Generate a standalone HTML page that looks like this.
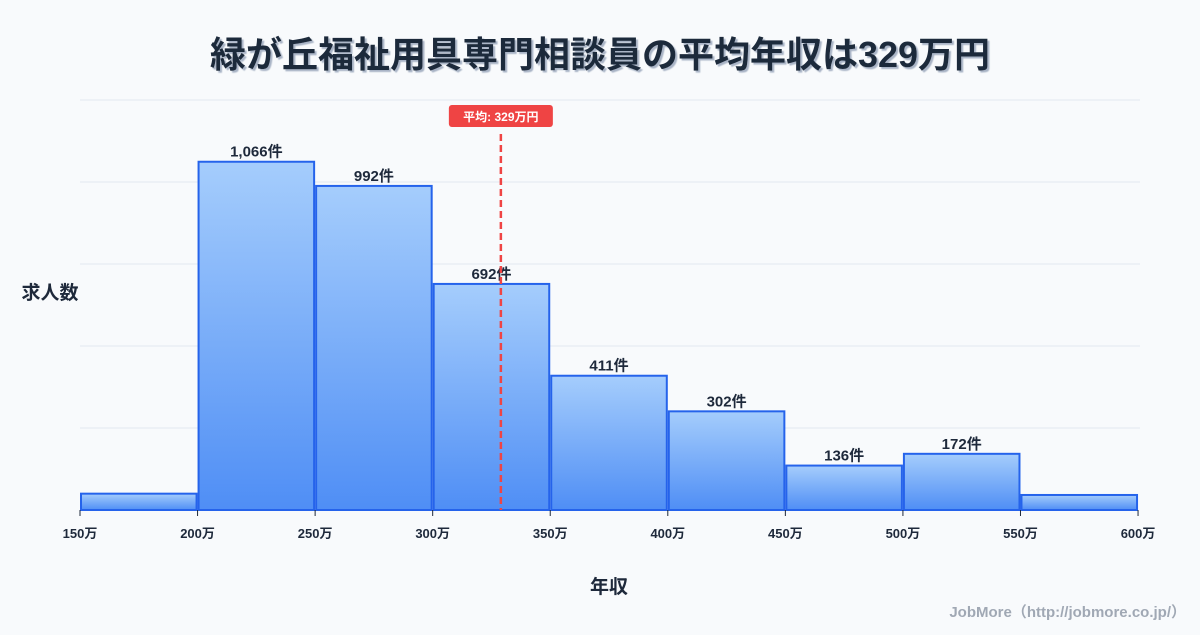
<!DOCTYPE html>
<html><head><meta charset="utf-8"><style>
body{margin:0;background:#f8fafc;font-family:"Liberation Sans","Noto Sans CJK JP",sans-serif;}
</style></head><body>
<svg id="c" width="1200" height="630" xmlns="http://www.w3.org/2000/svg">
<defs><linearGradient id="g" x1="0" y1="0" x2="0" y2="1"><stop offset="0" stop-color="#a5cdfc"/><stop offset="1" stop-color="#4f8ef5"/></linearGradient>
<filter id="sh"><feDropShadow dx="2" dy="2" stdDeviation="0.5" flood-color="#94a3b8" flood-opacity="0.8"/></filter></defs>
<rect width="1200" height="630" fill="#f8fafc"/>
<text x="600" y="67" text-anchor="middle" font-size="36" font-weight="bold" fill="#1e293b" filter="url(#sh)" font-family="Liberation Sans, Noto Sans CJK JP, sans-serif">緑が丘福祉用具専門相談員の平均年収は329万円</text>
<g id="grid"></g><g id="bars"></g><g id="xt"></g>
<text x="50" y="299" text-anchor="middle" font-size="19" font-weight="bold" fill="#1e293b">求人数</text>
<text x="609" y="593" text-anchor="middle" font-size="19" font-weight="bold" fill="#1e293b">年収</text>
<text x="1186" y="617" text-anchor="end" font-size="15" font-weight="bold" fill="#a0a8b4">JobMore（http://jobmore.co.jp/）</text>
<g id="mean"></g>
</svg>
<script>
const binStarts=[150,200,250,300,350,400,450,500,550];
const counts=[50,1066,992,692,411,302,136,172,46];
const showLabel=[false,true,true,true,true,true,true,true,false];
const xTicks=[150,200,250,300,350,400,450,500,550,600];
const gridVals=[251,502,753,1004,1255];
const meanVal=329;
const NS="http://www.w3.org/2000/svg";
const X=v=>80+(v-150)*117.56/50;
const Y=v=>510-v*410/1255;
function mk(t,a,p){const e=document.createElementNS(NS,t);for(const k in a)e.setAttribute(k,a[k]);document.getElementById(p).appendChild(e);return e;}
gridVals.forEach(v=>{const l=mk('line',{x1:80,x2:1140,y1:Y(v),y2:Y(v),stroke:'#e2e8f0','stroke-width':1},'grid');

});
binStarts.forEach((b,i)=>{const x0=X(b)+1,x1=X(b+50)-1,y=Y(counts[i]);
const r=mk('rect',{x:x0,y:y,width:x1-x0,height:510-y,fill:'url(#g)',stroke:'#2563eb','stroke-width':2},'bars');


if(showLabel[i]){const t=mk('text',{x:(x0+x1)/2,y:y-5,'text-anchor':'middle','font-size':15,'font-weight':'bold',fill:'#1e293b'},'bars');
t.textContent=counts[i].toLocaleString('en-US')+'件';

}});
xTicks.forEach(v=>{const l=mk('line',{x1:X(v),x2:X(v),y1:510,y2:516,stroke:'#1e293b','stroke-width':1},'xt');


const t=mk('text',{x:X(v),y:538,'text-anchor':'middle','font-size':13,'font-weight':'bold',fill:'#1e293b'},'xt');
t.textContent=v+'万';

});
const mx=X(meanVal);
const ml=mk('line',{x1:mx,x2:mx,y1:134,y2:510,stroke:'#ef4444','stroke-width':2.5,'stroke-dasharray':'7,4'},'mean');


const mb=mk('rect',{x:mx-52,y:105,width:104,height:22,rx:3,fill:'#ef4444'},'mean');


const mt=mk('text',{x:mx,y:121,'text-anchor':'middle','font-size':12,'font-weight':'bold',fill:'#fff'},'mean');
mt.textContent='平均: '+meanVal+'万円';


</script>
</body></html>
